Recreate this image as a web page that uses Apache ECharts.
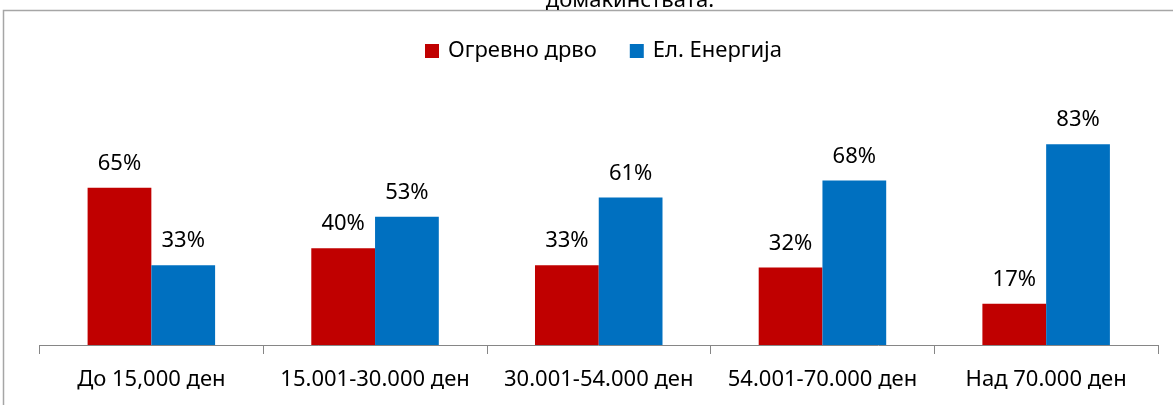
<!DOCTYPE html>
<html>
<head>
<meta charset="utf-8">
<script src="https://cdn.jsdelivr.net/npm/echarts@6/dist/echarts.min.js"></script>
<style>
  html, body { margin: 0; padding: 0; background: #fff; }
  #chart { width: 1173px; height: 405px; }
</style>
</head>
<body>
<div id="chart"></div>
<script>
var categories = ["До 15,000 ден", "15.001-30.000 ден", "30.001-54.000 ден", "54.001-70.000 ден", "Над 70.000 ден"];
var firewood = [65, 40, 33, 32, 17];
var electricity = [33, 53, 61, 68, 83];
var seriesNames = ["Огревно дрво", "Ел. Енергија"];
var titleText = "домаќинствата.";

var chart = echarts.init(document.getElementById("chart"));
var font = "Noto Sans";

var option = {
  animation: false,
  title: {
    text: titleText,
    left: 625,
    textAlign: "center",
    top: -15,
    textStyle: { fontFamily: font, fontSize: 22, fontWeight: "normal", color: "#000" }
  },
  graphic: [
    {
      type: "polyline",
      shape: { points: [[3.5, 405], [3.5, 10.5], [1173, 10.5]] },
      style: { stroke: "#a6a6a6", lineWidth: 1.5, fill: null },
      silent: true
    }
  ],
  legend: {
    top: 35,
    left: 420,
    itemWidth: 14,
    itemHeight: 14,
    itemGap: 33,
    icon: "rect",
    textStyle: { fontFamily: font, fontSize: 22, color: "#000", padding: [0, 0, 0, 4] },
    data: seriesNames
  },
  grid: {
    left: 39.5,
    right: 15,
    top: 103,
    bottom: 60,
    containLabel: false
  },
  xAxis: {
    type: "category",
    data: categories,
    boundaryGap: true,
    axisLine: { lineStyle: { color: "#868686", width: 1 } },
    axisTick: { show: true, length: 9, alignWithLabel: false, lineStyle: { color: "#868686" } },
    axisLabel: { interval: 0, margin: 24, fontFamily: font, fontSize: 22, color: "#000" }
  },
  yAxis: {
    type: "value",
    min: 0,
    max: 100,
    show: false,
    splitLine: { show: false }
  },
  series: [
    {
      name: seriesNames[0],
      type: "bar",
      data: firewood,
      barGap: "0%",
      barCategoryGap: "43%",
      itemStyle: { color: "#C00000" },
      label: {
        show: true,
        position: "top",
        distance: 13,
        formatter: "{c}%",
        fontFamily: font,
        fontSize: 22,
        color: "#000"
      }
    },
    {
      name: seriesNames[1],
      type: "bar",
      data: electricity,
      barGap: "0%",
      barCategoryGap: "43%",
      itemStyle: { color: "#0070C0" },
      label: {
        show: true,
        position: "top",
        distance: 13,
        formatter: "{c}%",
        fontFamily: font,
        fontSize: 22,
        color: "#000"
      }
    }
  ]
};
chart.setOption(option);
</script>
</body>
</html>
